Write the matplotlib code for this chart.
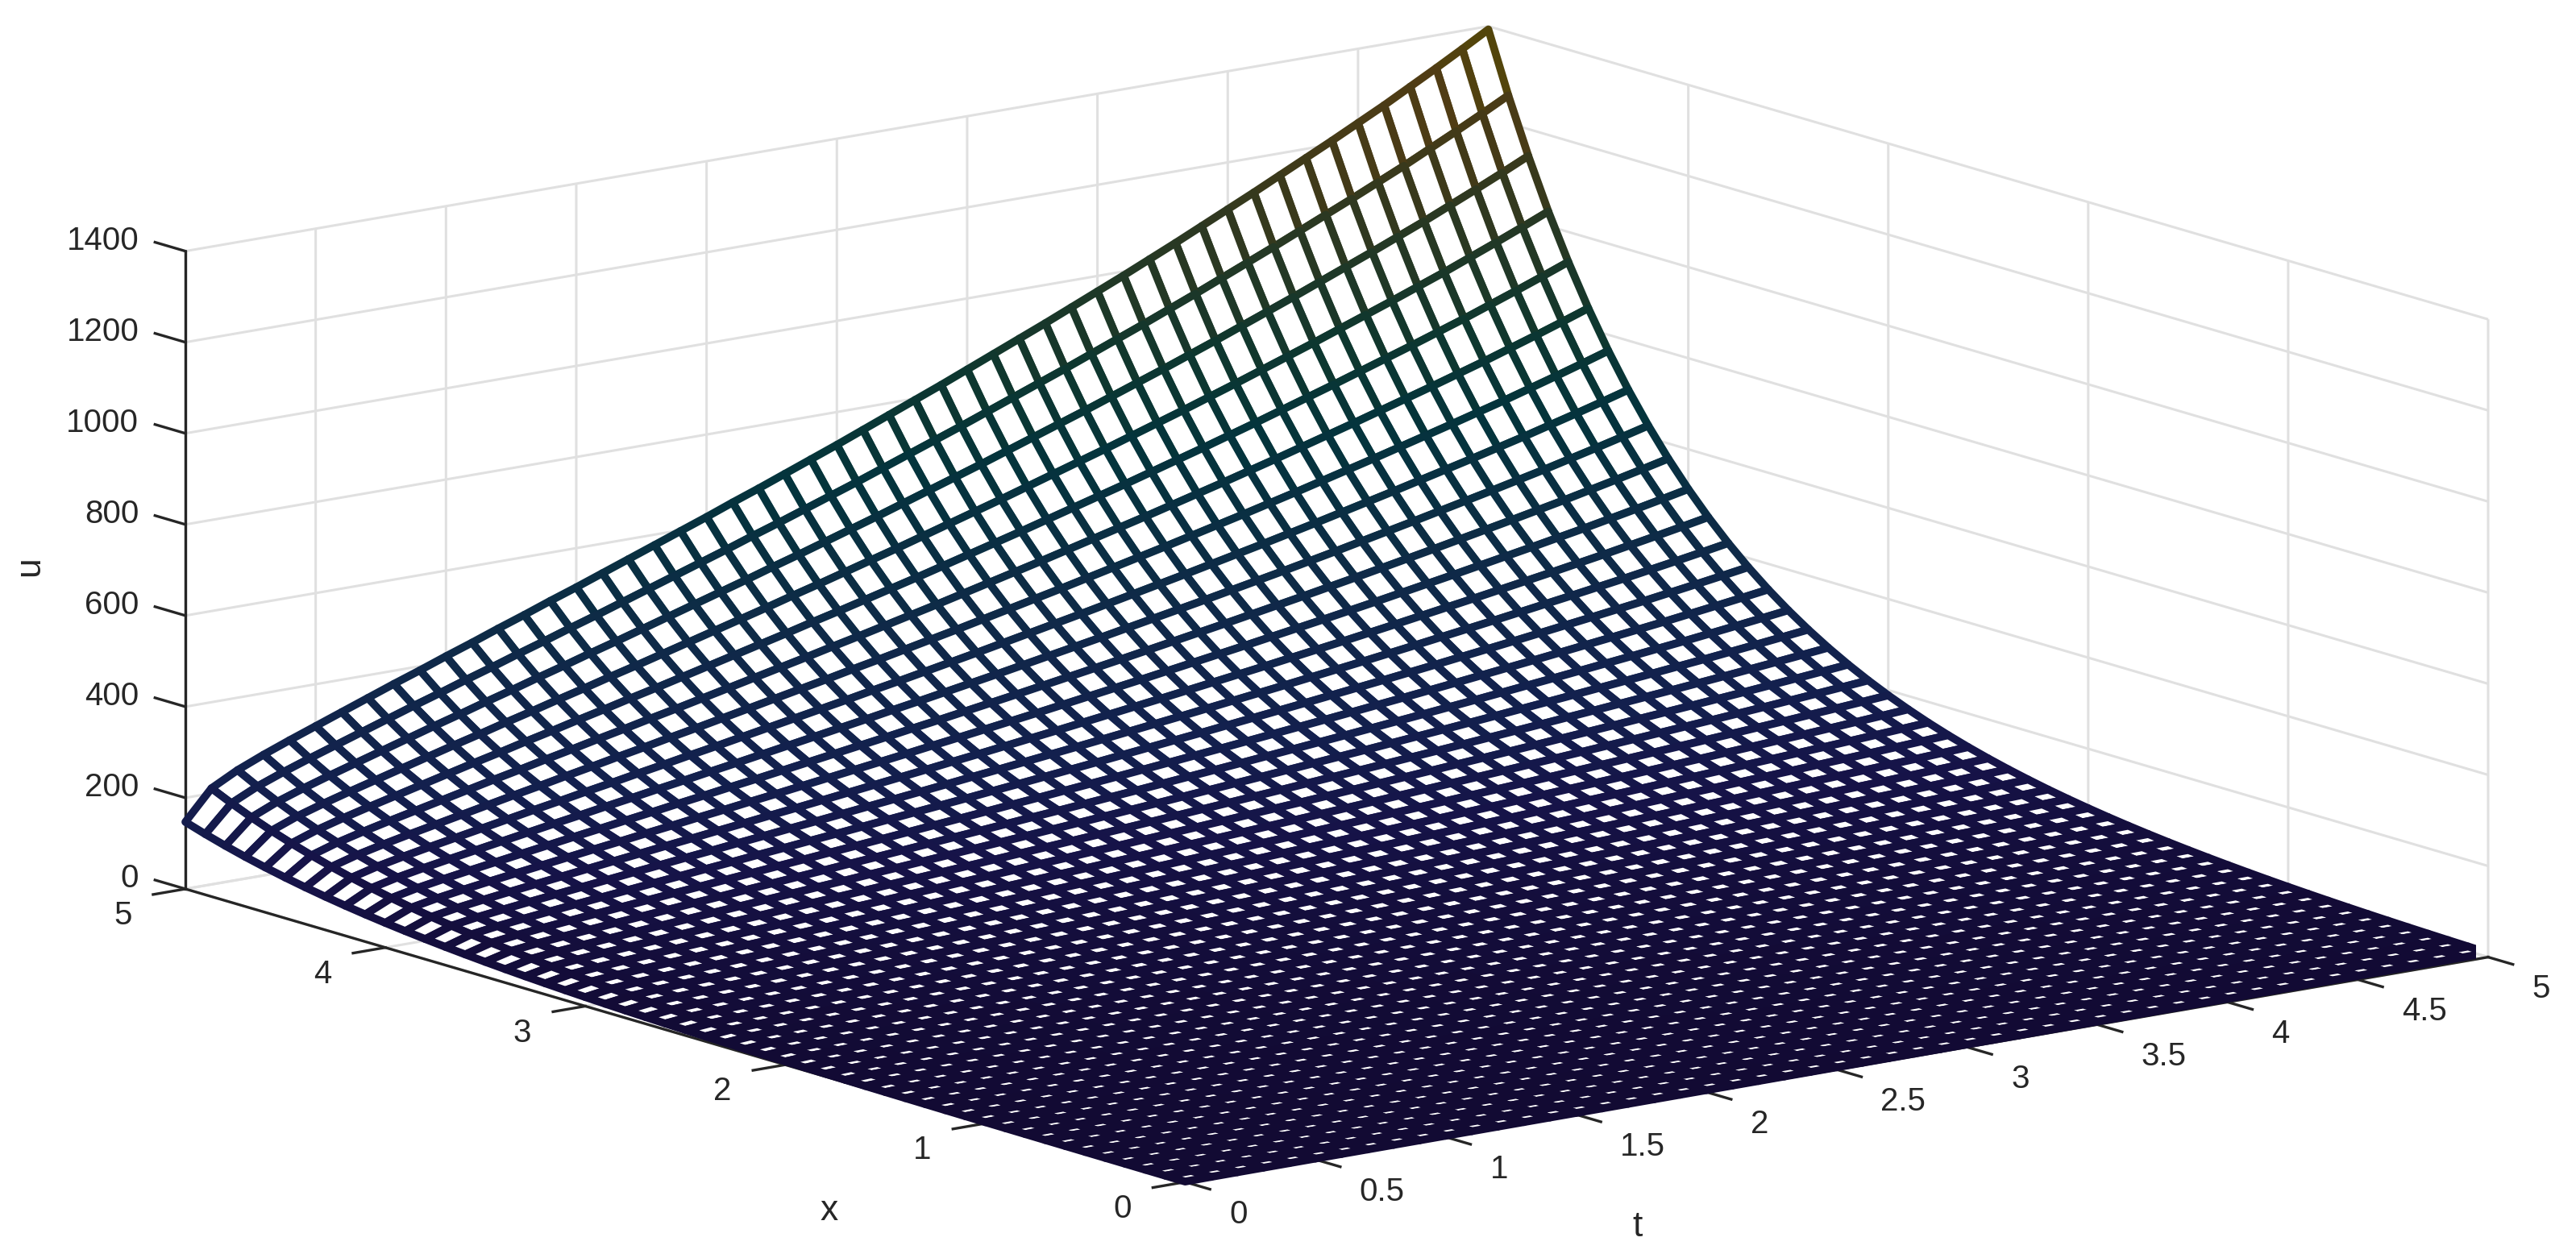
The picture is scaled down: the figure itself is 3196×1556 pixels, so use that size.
import numpy as np
import matplotlib
matplotlib.use('Agg')
import matplotlib.pyplot as plt
from matplotlib.colors import LinearSegmentedColormap, Normalize
from mpl_toolkits.mplot3d import proj3d

W, H = 3196, 1556

# mesh lines: step 0.1 on both axes
t_vals = [i / 10 for i in range(51)]
x_vals = [i / 10 for i in range(51)]

# u along the ridge x=5, one value per t line
u_ridge = [147, 211, 241, 265, 287, 308, 329, 350, 371, 391,
           412, 432, 453, 473, 494, 514, 535, 556, 577, 598,
           619, 641, 662, 684, 706, 728, 751, 774, 797, 820,
           844, 868, 892, 916, 941, 966, 991, 1017, 1043, 1070,
           1097, 1124, 1152, 1180, 1208, 1237, 1266, 1297, 1328, 1360,
           1393]
# u along the back edge t=5, one value per x line
u_back = [9.4, 10.4, 11.5, 12.7, 14.0, 15.5, 17.1, 18.9, 20.9, 23.1,
          25.5, 28.2, 31.2, 34.5, 38.1, 42.1, 46.5, 51.4, 56.8, 62.8,
          69.4, 76.7, 84.7, 93.7, 103.5, 114.4, 126.4, 139.7, 154.4, 170.7,
          188.6, 208.5, 230.4, 254.6, 281.4, 311, 343.7, 379.8, 419.8, 463.9,
          512.7, 566.6, 626.2, 692, 764.8, 845.3, 934.2, 1032, 1141, 1261,
          1393]

t_ticks = [0, 0.5, 1, 1.5, 2, 2.5, 3, 3.5, 4, 4.5, 5]
t_labels = ['0', '0.5', '1', '1.5', '2', '2.5', '3', '3.5', '4', '4.5', '5']
x_ticks = [0, 1, 2, 3, 4, 5]
u_ticks = [0, 200, 400, 600, 800, 1000, 1200, 1400]

# the two edges give the sheet: every t line has the same shape along x
U = np.outer(u_back, u_ridge) / u_ridge[-1]
T, X = np.meshgrid(t_vals, x_vals)

plt.rcParams['font.family'] = ['Liberation Sans', 'DejaVu Sans']
plt.rcParams['font.size'] = 29
plt.rcParams['grid.color'] = '#e0e0e0'
plt.rcParams['grid.linewidth'] = 2.2
dark = '#262626'

fig = plt.figure(figsize=(W / 100, H / 100), dpi=100)
ax = fig.add_axes([0, 0, 1, 1], projection='3d', proj_type='ortho')
ax.view_init(elev=13, azim=-127.5)
ax.set_box_aspect((1, 1, 0.3986))
ax.set_xlim(0, 5, view_margin=0)
ax.set_ylim(0, 5, view_margin=0)
ax.set_zlim(0, 1400, view_margin=0)

colors = LinearSegmentedColormap.from_list('darkparula', [
    (0, '#120a33'), (100 / 1393, '#161348'), (200 / 1393, '#13204e'),
    (400 / 1393, '#0f2a48'), (650 / 1393, '#04343c'), (800 / 1393, '#0e372f'),
    (1000 / 1393, '#2a3822'), (1130 / 1393, '#423a18'), (1250 / 1393, '#503c14'),
    (1, '#565000')])

surf = ax.plot_surface(T, X, U, rstride=1, cstride=1, color='white', shade=False,
                       linewidth=7, antialiased=True)
cell_u = (U[:-1, :-1] + U[1:, :-1] + U[:-1, 1:] + U[1:, 1:]) / 4
surf.set_edgecolor(colors(Normalize(0, 1393)(cell_u.ravel())))

ax.set_xticks(t_ticks, t_labels)
ax.set_yticks(x_ticks)
ax.set_zticks(u_ticks)
ax.tick_params(colors=dark, width=2.4)
ax.xaxis.set_tick_params(pad=40)
ax.yaxis.set_tick_params(pad=37)
ax.zaxis.set_tick_params(pad=14)
plt.setp(ax.get_xticklabels(), ha='left', va='baseline')
plt.setp(ax.get_yticklabels(), ha='right', va='baseline')
plt.setp(ax.get_zticklabels(), ha='right', va='baseline')

# ticks point away from the box, the u ticks lie along x
ax.zaxis._get_tickdir = lambda position: 1
for axis, out, inw in ((ax.xaxis, 0, 0.31), (ax.yaxis, 0, 0.31), (ax.zaxis, 0.38, 0)):
    axis.set_pane_color((1, 1, 1, 0))
    axis.pane.set_edgecolor('#e0e0e0')
    axis.pane.set_linewidth(2.2)
    axis.line.set_color(dark)
    axis.line.set_linewidth(2.4)
    axis._axinfo['tick']['outward_factor'] = out
    axis._axinfo['tick']['inward_factor'] = inw
    axis._axinfo['tick']['linewidth'] = {True: 2.4, False: 1}

# axis names sit away from the edge middles, so they are placed on the figure
fig.text(1029 / W, 1 - 1502 / H, 'x', color=dark, fontsize=32, ha='center', va='center')
fig.text(2032 / W, 1 - 1522 / H, 't', color=dark, fontsize=32, ha='center', va='center')
fig.text(37 / W, 1 - 703 / H, 'u', color=dark, fontsize=32, ha='center', va='center', rotation=90)

# scale and shift the 3d box so its corners land where they are in the reference
ax.apply_aspect()
xs, ys, _ = proj3d.proj_transform(np.array([0.0, 5.0]), np.array([5.0, 0.0]),
                                  np.array([0.0, 0.0]), ax.get_proj())
p = ax.transData.transform(np.c_[xs, ys])
box = ax.bbox.frozen()
s = (3087 - 230) / (p[1, 0] - p[0, 0])
left = 230 - s * (p[0, 0] - box.x0)
bottom = (H - 1103) - s * (p[0, 1] - box.y0)
ax.set_position([left / W, bottom / H, s * box.width / W, s * box.height / H])

fig.savefig('out.png', dpi=100)
